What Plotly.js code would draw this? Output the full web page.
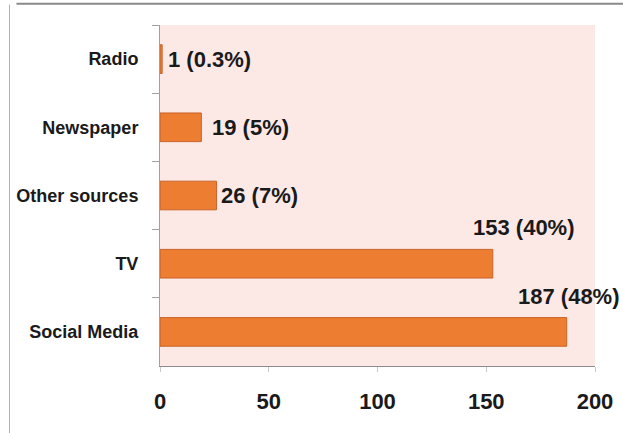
<!DOCTYPE html>
<html><head><meta charset="utf-8">
<script src="https://cdn.plot.ly/plotly-3.0.1.min.js"></script>
<style>html,body{margin:0;padding:0;background:#fff}#c{width:623px;height:433px}</style>
</head><body><div id="c"></div>
<script>
const categories = ["Radio", "Newspaper", "Other sources", "TV", "Social Media"];
const counts = [1, 19, 26, 153, 187];
const percents = ["0.3", "5", "7", "40", "48"];

const fontFamily = "Liberation Sans, Arial, sans-serif";
const labelFont = {family: fontFamily, size: 22, color: "#1a1a1a"};
const labels = counts.map((v, i) => v + " (" + percents[i] + "%)");
// label placement style: first three to the right of bar, last two above bar end
const labelStyle = [
  {xanchor: "left", xshift: 4, yshift: 0},
  {xanchor: "left", xshift: 9, yshift: 0},
  {xanchor: "left", xshift: 2, yshift: 0},
  {xanchor: "center", xshift: 31, yshift: 36},
  {xanchor: "center", xshift: 2, yshift: 35}
];
const annotations = categories.map((c, i) => Object.assign({
  x: counts[i], y: c, xref: "x", yref: "y", text: "<b>" + labels[i] + "</b>",
  showarrow: false, font: labelFont, yanchor: "middle"
}, labelStyle[i]));

const trace = {
  type: "bar", orientation: "h", x: counts, y: categories,
  width: 0.42,
  marker: {color: "#ED7D31", line: {color: "#C8632A", width: 1}},
  hoverinfo: "none"
};

const layout = {
  width: 623, height: 433,
  margin: {l: 160, r: 28, t: 25, b: 67},
  paper_bgcolor: "#ffffff",
  plot_bgcolor: "#FCE9E6",
  showlegend: false,
  xaxis: {
    range: [0, 200], dtick: 50, tick0: 0,
    showgrid: false, zeroline: false,
    showline: true, linecolor: "#8c8c8c", linewidth: 1,
    ticks: "outside", ticklen: 5, tickcolor: "#c8c8c8",
    tickfont: {family: fontFamily, size: 22, color: "#1a1a1a", weight: "bold"},
    ticklabelstandoff: 11, fixedrange: true
  },
  yaxis: {
    range: [categories.length - 0.5, -0.5], type: "category",
    showgrid: false, zeroline: false,
    showline: true, linecolor: "#a0a0a0", linewidth: 1,
    ticks: "outside", ticklen: 7, tickcolor: "#a0a0a0", tickson: "boundaries",
    tickfont: {family: fontFamily, size: 18, color: "#1a1a1a", weight: "bold"},
    ticklabelstandoff: 17, fixedrange: true
  },
  annotations: annotations,
  shapes: [
    {type: "line", xref: "paper", yref: "paper", x0: -0.33, x1: 1.1, y0: 1.062, y1: 1.062, line: {color: "#8a8a8a", width: 2}},
    {type: "line", xref: "paper", yref: "paper", x0: -0.346, x1: -0.346, y0: -0.2, y1: 1.06, line: {color: "#b0b0b0", width: 1}}
  ]
};
Plotly.newPlot("c", [trace], layout, {displayModeBar: false, staticPlot: true});
</script></body></html>
